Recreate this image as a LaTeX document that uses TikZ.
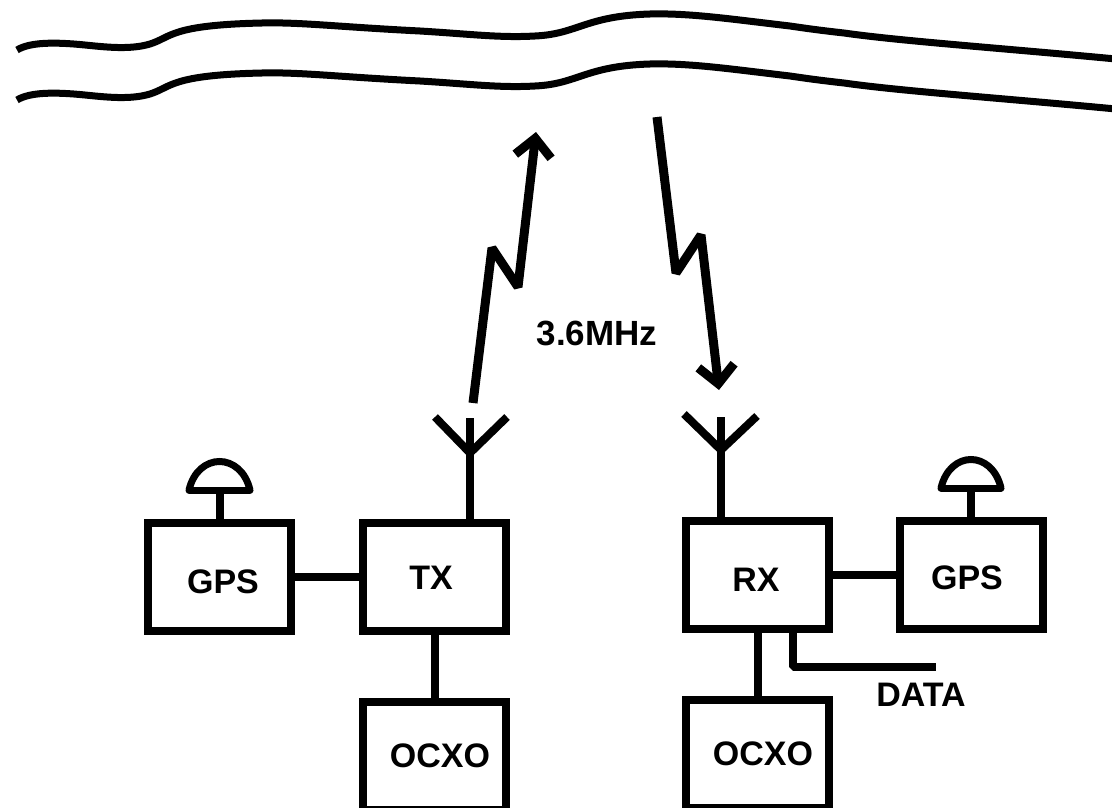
\documentclass[tikz,border=0pt]{standalone}
\usepackage{fontspec}
\setmainfont{Liberation Sans}
\usetikzlibrary{arrows.meta}
\newcommand{\wavepath}{(17,50) .. controls (30,42) and (55,42) .. (85,45)
  .. controls (105,47) and (130,50) .. (150,44)
  .. controls (172,37) and (170,25) .. (262,23)
  .. controls (300,22) and (340,27) .. (420,31)
  .. controls (470,34) and (500,38) .. (535,36)
  .. controls (578,34) and (585,16) .. (650,14)
  .. controls (690,13) and (730,19) .. (790,26)
  .. controls (810,29) and (826,31) .. (844,33)
  .. controls (900,41) and (1000,48) .. (1116,59)}

\begin{document}
\begin{tikzpicture}[x=1pt,y=-1pt]
\tikzset{box/.style={draw, line width=8pt, minimum width=143.5pt, minimum height=108pt, inner sep=0pt},
  wire/.style={line width=8pt},
  wave/.style={line width=7pt},
  dome/.style={line width=7pt},
  radio/.style={line width=9pt, line join=bevel, -{Straight Barb[length=18pt, width=36pt, line width=9pt]}},
  every label/.style={font=\fontsize{34}{36}\selectfont\bfseries, inner sep=0pt},
  txt/.style={font=\fontsize{34}{36}\selectfont\bfseries, inner sep=0pt}}
\useasboundingbox (0,0) rectangle (1112,808);

\draw[wave] \wavepath;
\draw[wave, yshift=-50pt] \wavepath;

\node[box, label={[xshift=3.5pt, yshift=-5pt]center:GPS}] (gpstx) at (219.5,577) {};
\node[box, label={[xshift=-3.5pt, yshift=-1pt]center:TX}] (tx) at (434.5,577) {};
\node[box, label={[xshift=5.5pt, yshift=0pt]center:OCXO}] (ocxotx) at (434.5,756) {};
\node[box, label={[xshift=-1.5pt, yshift=-5pt]center:RX}] (rx) at (757.5,575) {};
\node[box, label={[xshift=-4.5pt, yshift=-3pt]center:GPS}] (gpsrx) at (971.5,575) {};
\node[box, label={[xshift=5.5pt, yshift=0pt]center:OCXO}] (ocxorx) at (757.5,754) {};
\node[txt] (data) at (921,695) {DATA};
\node[txt, font=\fontsize{35}{36}\selectfont\bfseries] (freq) at (597,333) {3.6MHz};

\draw[wire] (gpstx) -- (tx);
\draw[wire] (tx) -- (ocxotx);
\draw[wire] (rx) -- (gpsrx);
\draw[wire] (rx) -- (ocxorx);

\coordinate (datatap) at (793,632);
\coordinate (databend) at (793,667);
\coordinate (dataend) at (936,667);
\draw[wire, line join=bevel] (datatap) -- (databend) -- (dataend);

\coordinate (anttx) at (470,519);
\coordinate (anttxtop) at (470,418);
\coordinate (anttxfork) at (470,453);
\coordinate (anttxl) at (435,417);
\coordinate (anttxr) at (507,417);
\draw[wire] (anttx) -- (anttxtop);
\draw[wire, line join=bevel] (anttxl) -- (anttxfork) -- (anttxr);

\coordinate (antrx) at (721,517);
\coordinate (antrxtop) at (721,417);
\coordinate (antrxfork) at (721,450);
\coordinate (antrxl) at (684,414);
\coordinate (antrxr) at (757,416);
\draw[wire] (antrx) -- (antrxtop);
\draw[wire, line join=bevel] (antrxl) -- (antrxfork) -- (antrxr);

\coordinate (gpstxfoot) at (220,519);
\coordinate (gpstxbase) at (220,490);
\coordinate (gpstxl) at (189,490);
\coordinate (gpstxr) at (250,490);
\draw[wire] (gpstxfoot) -- (gpstxbase);
\draw[dome, line cap=round] (gpstxl) -- (gpstxr);
\draw[dome] (gpstxl) .. controls (198,452) and (241,452) .. (gpstxr);

\coordinate (gpsrxfoot) at (971,517);
\coordinate (gpsrxbase) at (971,488);
\coordinate (gpsrxl) at (941,488);
\coordinate (gpsrxr) at (1001,488);
\draw[wire] (gpsrxfoot) -- (gpsrxbase);
\draw[dome, line cap=round] (gpsrxl) -- (gpsrxr);
\draw[dome] (gpsrxl) .. controls (950,450) and (992,450) .. (gpsrxr);

\coordinate (uptail) at (473,403);
\coordinate (upkinka) at (492,248);
\coordinate (upkinkb) at (518,287);
\coordinate (uptip) at (536,132);
\draw[radio] (uptail) -- (upkinka) -- (upkinkb) -- (uptip);

\coordinate (downtail) at (657,117);
\coordinate (downkinka) at (676,273);
\coordinate (downkinkb) at (701,235);
\coordinate (downtip) at (719,390);
\draw[radio] (downtail) -- (downkinka) -- (downkinkb) -- (downtip);
\end{tikzpicture}
\end{document}
